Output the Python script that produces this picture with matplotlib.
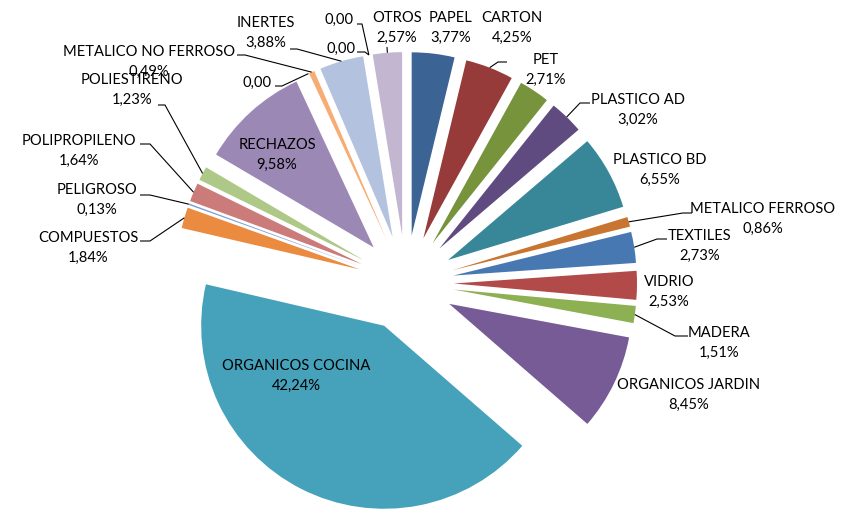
import matplotlib
matplotlib.use("Agg")
import matplotlib.pyplot as plt
import numpy as np

categories = ["PAPEL", "CARTON", "PET", "PLASTICO AD", "PLASTICO BD",
              "METALICO FERROSO", "TEXTILES", "VIDRIO", "MADERA",
              "ORGANICOS JARDIN", "ORGANICOS COCINA", "COMPUESTOS",
              "PELIGROSO", "POLIPROPILENO", "POLIESTIRENO", "RECHAZOS",
              "", "METALICO NO FERROSO", "INERTES", "", "", "OTROS"]
values = [3.77, 4.25, 2.71, 3.02, 6.55, 0.86, 2.73, 2.53, 1.51, 8.45, 42.24,
          1.84, 0.13, 1.64, 1.23, 9.58, 0.00, 0.49, 3.88, 0.00, 0.00, 2.57]
value_labels = ["3,77%", "4,25%", "2,71%", "3,02%", "6,55%", "0,86%", "2,73%",
                "2,53%", "1,51%", "8,45%", "42,24%", "1,84%", "0,13%", "1,64%",
                "1,23%", "9,58%", "0,00", "0,49%", "3,88%", "0,00", "0,00",
                "2,57%"]
colors = ["#3B6494", "#963B3A", "#77933C", "#5F4B7F", "#378798", "#C97532",
          "#4878B2", "#B24A49", "#8DB053", "#765B96", "#46A1BA", "#EB8B40",
          "#7D9FD2", "#CB7B7A", "#AEC987", "#9C88B5", "#8ECFE0", "#F7AC73",
          "#B3C3DF", "#DDB6B5", "#CFDEB5", "#C2B6D1"]

W, H = 859, 514
CX, CY, R = 406, 283, 183      # pixel centre / radius
EXPL = 48 / R

# label layout (pixel coords of text block centre) and optional leader elbow
label_pos = {
    0: (451, 28), 1: (512, 28), 2: (546, 70), 3: (638, 110), 4: (660, 170),
    5: (763, 219), 6: (700, 246), 7: (669, 292), 8: (719, 343),
    9: (689, 395), 10: (296, 376), 11: (88, 248), 12: (97, 200),
    13: (79, 151), 14: (132, 90), 15: (277, 155), 16: (257, 83),
    17: (149, 62), 18: (266, 33), 19: (339, 20), 20: (341, 49), 21: (397, 28),
}
leaders = {
    1: [(507, 62), (498, 62)], 3: [(590, 103), (580, 103)],
    5: [(692, 213), (683, 213)], 6: [(667, 239), (657, 239)],
    8: [(688, 336), (675, 336)], 11: [(140, 241), (150, 241)],
    12: [(140, 195), (150, 195)], 13: [(140, 144), (150, 144)],
    14: [(158, 105), (165, 105)], 16: [(275, 86), (282, 86)],
    17: [(237, 55), (245, 55)], 18: [(290, 49), (297, 49)],
    19: [(357, 24), (362, 24)], 20: [(357, 52), (365, 52)],
    21: [(387, 47)],
}

plt.rcParams['font.family'] = ['Lato', 'DejaVu Sans']

fig = plt.figure(figsize=(W / 100, H / 100), dpi=100)
ax = fig.add_axes([0, 0, 1, 1])

def px(x, y):
    return ((x - CX) / R, (CY - y) / R)

wedges, _ = ax.pie(values, colors=colors, startangle=90, counterclock=False,
                   explode=[EXPL] * len(values), radius=1.0, center=(0, 0),
                   wedgeprops=dict(linewidth=0))

ax.set_xlim(px(0, 0)[0], px(W, 0)[0])
ax.set_ylim(px(0, H)[1], px(0, 0)[1])
ax.set_aspect('equal')
ax.axis('off')

total = sum(values)
cum = np.cumsum([0] + values[:-1])
for i, (cat, vl) in enumerate(zip(categories, value_labels)):
    mid = (cum[i] + values[i] / 2) / total * 2 * np.pi
    anchor = ((1 + EXPL) * np.sin(mid), (1 + EXPL) * np.cos(mid))
    txt = vl if cat == "" else cat + "\n" + vl
    lx, ly = label_pos[i]
    ax.text(*px(lx, ly), txt, ha='center', va='center', fontsize=10.6,
            linespacing=1.5, color='black')
    if i in leaders:
        pts = [px(*p) for p in leaders[i]] + [anchor]
        xs, ys = zip(*pts)
        ax.plot(xs, ys, color='black', linewidth=0.8, solid_capstyle='butt')

fig.savefig("out.png", dpi=100)
